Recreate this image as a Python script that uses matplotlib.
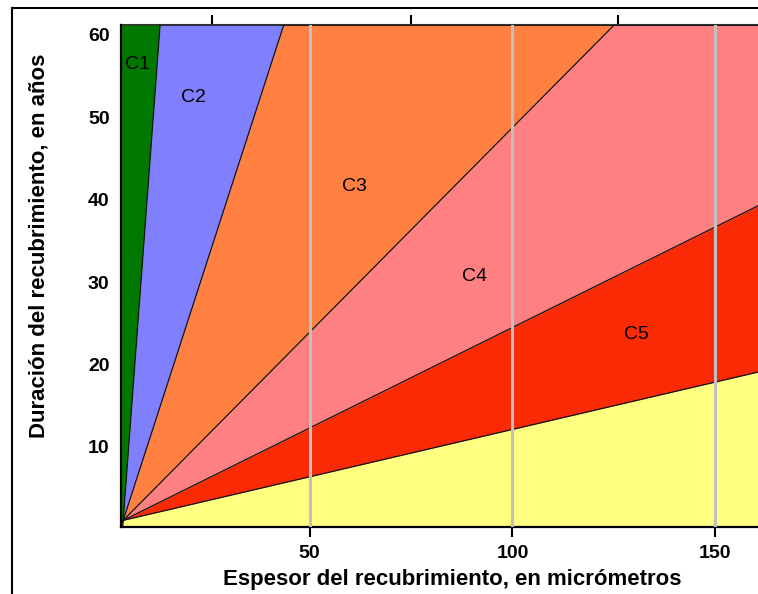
import matplotlib
matplotlib.use('Agg')
import matplotlib.pyplot as plt
import numpy as np
from matplotlib.lines import Line2D

# categories and boundary slopes (years of coating life per micrometre)
categories = ['C1', 'C2', 'C3', 'C4', 'C5']
years_per_um = [6.63, 1.52, 0.497, 0.244, 0.115]   # upper edge of each class below
origin = (4.1, 1.1)                                 # where the boundaries meet
region_colors = ['#007800', '#8080ff', '#ff8040', '#ff8080', '#fa2a05', '#ffff80']

# label positions (thickness, years)
label_x = [7.7, 21.5, 61.0, 90.6, 130.6]
label_y = [56.4, 52.4, 41.6, 30.7, 23.6]

x_lim = (3.48, 160.5)
y_lim = (0.33, 61.2)
bottom_ticks = [50, 100, 150]
top_ticks = [26, 75, 126]
y_ticks = [10, 20, 30, 40, 50, 60]

plt.rcParams['font.family'] = ['Liberation Sans', 'DejaVu Sans']

W, H = 758, 594
fig = plt.figure(figsize=(W / 100, H / 100), dpi=100)
left, right, top, bottom = 120.7, 758, 25, 526.7
ax = fig.add_axes([left / W, 1 - bottom / H, (right - left) / W, (bottom - top) / H])

x = np.linspace(x_lim[0], x_lim[1], 6000)
bounds = [np.clip(origin[1] + k * (x - origin[0]), y_lim[0], y_lim[1]) for k in years_per_um]
uppers = [np.full_like(x, y_lim[1])] + bounds
lowers = bounds + [np.full_like(x, y_lim[0])]
for up, lo, c in zip(uppers, lowers, region_colors):
    ax.fill_between(x, lo, up, color=c, lw=0, zorder=1)
for b in bounds:
    ax.plot(x, b, color='#111111', lw=0.9, zorder=2)

for xv in bottom_ticks:
    ax.axvline(xv, color='#c0c0c0', lw=2.2, zorder=3)

for name, lx, ly in zip(categories, label_x, label_y):
    ax.text(lx, ly, name, ha='center', va='center', fontsize=14, color='black', zorder=4)

ax.set_xlim(*x_lim)
ax.set_ylim(*y_lim)
ax.set_xticks(bottom_ticks)
ax.set_yticks(y_ticks)
ax.tick_params(axis='x', direction='out', length=7, width=1.5, pad=6, labelsize=14)
ax.tick_params(axis='y', length=0, pad=8, labelsize=14)
for lab in ax.get_xticklabels() + ax.get_yticklabels():
    lab.set_fontweight('bold')

ax.spines['right'].set_visible(False)
ax.spines['top'].set_visible(False)
ax.spines['left'].set_linewidth(1.6)
ax.spines['bottom'].set_linewidth(1.6)

sec = ax.secondary_xaxis('top')
sec.set_xticks(top_ticks)
sec.set_xticklabels([])
sec.tick_params(direction='out', length=7, width=1.5)
sec.spines['top'].set_linewidth(1.5)
sec.spines['top'].set_color('#333333')

ax.set_xlabel('Espesor del recubrimiento, en micrómetros', fontsize=16, fontweight='bold')
ax.set_ylabel('Duración del recubrimiento, en años', fontsize=16, fontweight='bold')
ax.xaxis.set_label_coords(0.52, -0.084)
ax.yaxis.set_label_coords(-0.111, 0.56)

# outer frame lines (top and left)
fig.add_artist(Line2D([12 / W, 1], [1 - 8 / H, 1 - 8 / H], color='black', lw=1.5, transform=fig.transFigure))
fig.add_artist(Line2D([12 / W, 12 / W], [0, 1 - 8 / H], color='black', lw=1.5, transform=fig.transFigure))

fig.savefig('out.png', dpi=100)
